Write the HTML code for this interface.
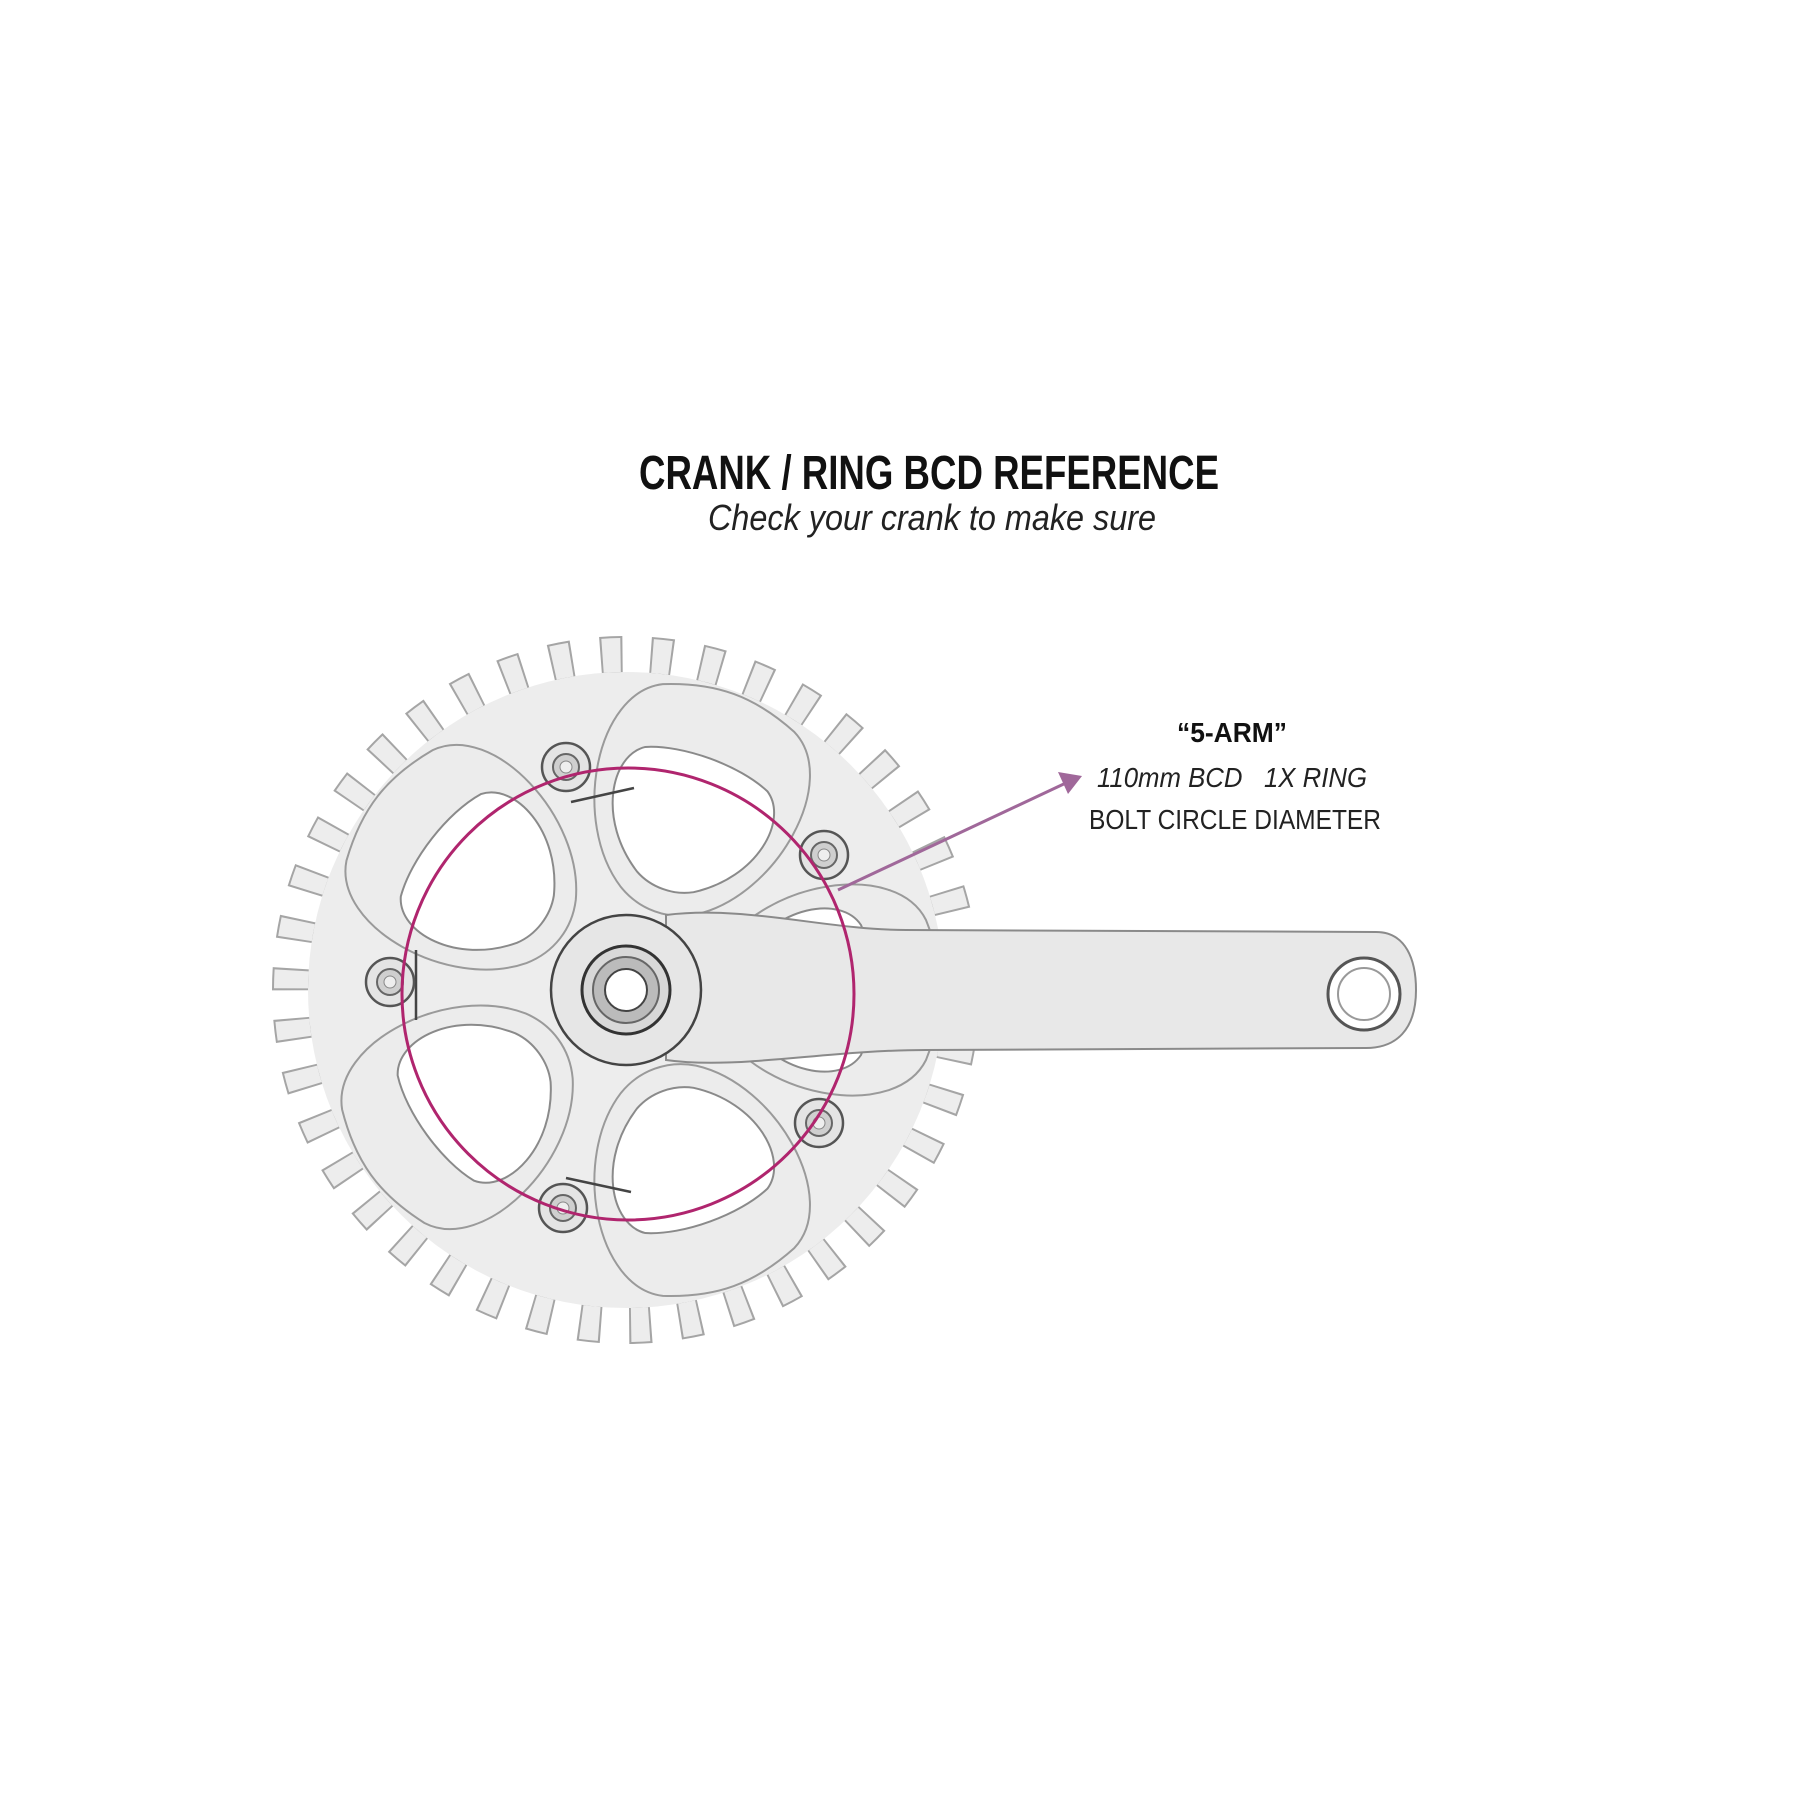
<!DOCTYPE html>
<html><head><meta charset="utf-8"><style>
html,body{margin:0;padding:0;background:#fff;}
svg{display:block;}
</style></head><body>
<svg width="1800" height="1800" viewBox="0 0 1800 1800" xmlns="http://www.w3.org/2000/svg">
<rect width="1800" height="1800" fill="#fff"/>
<text x="929" y="489" text-anchor="middle" font-family="Liberation Sans, sans-serif" font-weight="bold" font-size="48" textLength="580" lengthAdjust="spacingAndGlyphs" fill="#111">CRANK / RING BCD REFERENCE</text>
<text x="932" y="530" text-anchor="middle" font-family="Liberation Sans, sans-serif" font-style="italic" font-size="36" textLength="448" lengthAdjust="spacingAndGlyphs" fill="#222">Check your crank to make sure</text>

<defs>
<g id="win">
  <path d="M95,-40 C140,-110 270,-130 300,-70 C320,-20 320,20 300,70 C270,130 140,110 95,40 C80,15 80,-15 95,-40Z" fill="#ececec" stroke="#9a9a9a" stroke-width="2"/>
  <path d="M115,-30 C150,-85 215,-95 235,-65 C250,-30 250,30 235,65 C215,95 150,85 115,30 C105,12 105,-12 115,-30Z" fill="#fff" stroke="#8a8a8a" stroke-width="2"/>
</g>
<g id="bolt">
  <circle r="24" fill="#e4e4e4" stroke="#555" stroke-width="2.5"/>
  <circle r="13" fill="#cfcfcf" stroke="#666" stroke-width="2"/>
  <circle r="6" fill="#eee" stroke="#888" stroke-width="1"/>
</g>
</defs>

<g transform="translate(626,990)">
  <circle r="335" fill="none" stroke="#a5a5a5" stroke-width="38" pathLength="42" stroke-dasharray="0.44 0.56"/>
  <circle r="335" fill="none" stroke="#ededed" stroke-width="34" pathLength="42" stroke-dasharray="0.36 0.64" stroke-dashoffset="-0.04"/>
  <circle r="318" fill="#ededed"/>
  <use href="#win" transform="rotate(-70)"/>
  <use href="#win" transform="rotate(-142)"/>
  <use href="#win" transform="rotate(144)"/>
  <use href="#win" transform="rotate(70)"/>
  <use href="#win" transform="rotate(0)"/>
  <g stroke="#444" stroke-width="2.5" fill="none">
    <line x1="-55" y1="-188" x2="8" y2="-202"/>
    <line x1="-210" y1="-40" x2="-210" y2="30"/>
    <line x1="-60" y1="188" x2="5" y2="202"/>
  </g>
  <path d="M40,-75 C120,-85 200,-60 280,-60 L750,-58 C780,-58 790,-30 790,0 C790,40 770,58 740,58 L300,60 C200,60 110,80 40,70Z" fill="#e8e8e8" stroke="#8a8a8a" stroke-width="2"/>
  <circle cx="738" cy="4" r="36" fill="#fff" stroke="#555" stroke-width="3"/>
  <circle cx="738" cy="4" r="26" fill="#fff" stroke="#999" stroke-width="2"/>
  <circle r="75" fill="#e6e6e6" stroke="#444" stroke-width="2.5"/>
  <circle r="44" fill="#d8d8d8" stroke="#333" stroke-width="3"/>
  <circle r="33" fill="#bbb" stroke="#666" stroke-width="2"/>
  <circle r="21" fill="#fff" stroke="#444" stroke-width="2"/>
  <use href="#bolt" transform="translate(-60,-223)"/>
  <use href="#bolt" transform="translate(198,-135)"/>
  <use href="#bolt" transform="translate(-236,-8)"/>
  <use href="#bolt" transform="translate(193,133)"/>
  <use href="#bolt" transform="translate(-63,218)"/>
  <circle cx="2" cy="4" r="226" fill="none" stroke="#b0256e" stroke-width="3"/>
</g>

<line x1="838" y1="890" x2="1068" y2="782" stroke="#a0689a" stroke-width="3"/>
<polygon points="1082,776 1058,772 1068,794" fill="#a0689a"/>

<text x="1232" y="742" text-anchor="middle" font-family="Liberation Sans, sans-serif" font-weight="bold" font-size="28" textLength="110" lengthAdjust="spacingAndGlyphs" fill="#111">“5-ARM”</text>
<text x="1097" y="787" font-family="Liberation Sans, sans-serif" font-style="italic" font-size="28" textLength="270" lengthAdjust="spacingAndGlyphs" fill="#222" xml:space="preserve">110mm BCD   1X RING</text>
<text x="1089" y="829" font-family="Liberation Sans, sans-serif" font-size="28" textLength="292" lengthAdjust="spacingAndGlyphs" fill="#222">BOLT CIRCLE DIAMETER</text>
</svg>
</body></html>
